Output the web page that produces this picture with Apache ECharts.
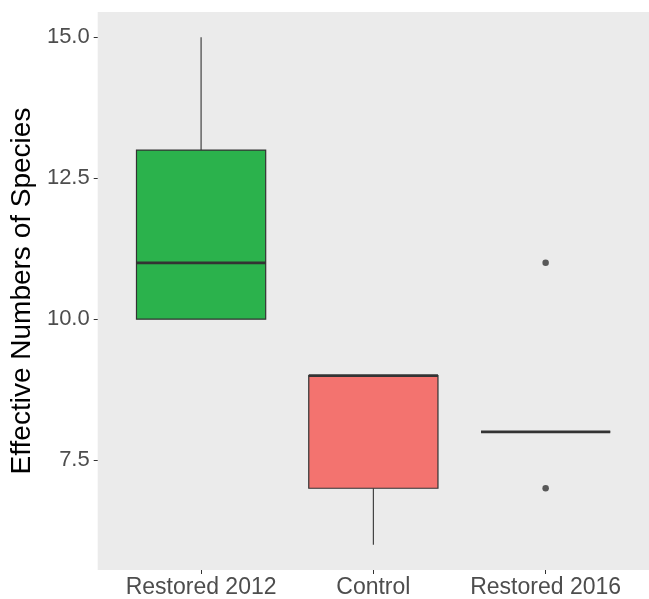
<!DOCTYPE html>
<html>
<head>
<meta charset="utf-8">
<script src="https://cdn.jsdelivr.net/npm/echarts@6/dist/echarts.min.js"></script>
<style>
html,body{margin:0;padding:0;background:#fff;}
#chart{width:649px;height:599px;}
</style>
</head>
<body>
<div id="chart"></div>
<script>
const categories = ['Restored 2012', 'Control', 'Restored 2016'];
const lowerWhisker = [10, 6, 8];
const q1 = [10, 7, 8];
const medians = [11, 9, 8];
const q3 = [13, 9, 8];
const upperWhisker = [15, 9, 8];
// outliers: [category position (1-based), value]
const outliers = [[3, 7], [3, 11]];
const yTicks = [7.5, 10, 12.5, 15];

const boxFills = ['#2BB24C', '#F3736F', '#619CFF'];
const FONT = "'Liberation Sans', Arial, Helvetica, sans-serif";

const boxData = categories.map((c, i) => [i + 1, lowerWhisker[i], q1[i], medians[i], q3[i], upperWhisker[i]]);

const chart = echarts.init(document.getElementById('chart'), null, {renderer: 'canvas'});
chart.setOption({
  animation: false,
  backgroundColor: '#ffffff',
  grid: {
    left: 94, right: -1, top: 12, bottom: 27,
    show: true, backgroundColor: '#EBEBEB', borderWidth: 0
  },
  xAxis: {
    type: 'value', min: 0.4, max: 3.6,
    axisLine: {show: false},
    splitLine: {show: false},
    axisTick: {show: true, customValues: [1, 2, 3], length: 4, lineStyle: {color: '#333333', width: 1}},
    axisLabel: {
      customValues: [1, 2, 3],
      formatter: v => categories[Math.round(v) - 1] || '',
      color: '#4D4D4D', fontSize: 23, fontFamily: FONT, margin: 6
    }
  },
  yAxis: {
    type: 'value', min: 5.55, max: 15.45,
    name: 'Effective Numbers of Species',
    nameLocation: 'middle', nameGap: 60,
    nameTextStyle: {color: '#000000', fontSize: 28, fontFamily: FONT},
    axisLine: {show: false},
    splitLine: {show: false},
    axisTick: {show: true, customValues: yTicks, length: 4, lineStyle: {color: '#333333', width: 1}},
    axisLabel: {
      customValues: yTicks,
      formatter: v => Number(v).toFixed(1),
      color: '#4D4D4D', fontSize: 22, fontFamily: FONT, margin: 8
    }
  },
  series: [
    {
      type: 'custom',
      data: boxData,
      encode: {x: 0, y: [1, 2, 3, 4, 5]},
      renderItem: function (params, api) {
        const x = api.value(0);
        const lo = api.value(1), a = api.value(2), m = api.value(3), b = api.value(4), hi = api.value(5);
        const half = 0.375;
        const pHi = api.coord([x, hi]), pB = api.coord([x, b]);
        const pA = api.coord([x, a]), pLo = api.coord([x, lo]);
        const tl = api.coord([x - half, b]);
        const br = api.coord([x + half, a]);
        const ml = api.coord([x - half, m]);
        const mr = api.coord([x + half, m]);
        const stroke = '#333333';
        return {
          type: 'group',
          children: [
            {type: 'line', shape: {x1: pB[0], y1: pB[1], x2: pHi[0], y2: pHi[1]}, style: {stroke: stroke, lineWidth: 1.1}},
            {type: 'line', shape: {x1: pA[0], y1: pA[1], x2: pLo[0], y2: pLo[1]}, style: {stroke: stroke, lineWidth: 1.1}},
            {type: 'rect', shape: {x: tl[0], y: tl[1], width: br[0] - tl[0], height: br[1] - tl[1]},
              style: {fill: boxFills[params.dataIndex], stroke: stroke, lineWidth: 1.2}},
            {type: 'line', shape: {x1: ml[0], y1: ml[1], x2: mr[0], y2: mr[1]}, style: {stroke: stroke, lineWidth: 2.8}}
          ]
        };
      }
    },
    {
      type: 'scatter',
      data: outliers,
      symbol: 'circle',
      symbolSize: 6.5,
      itemStyle: {color: '#333333'}
    }
  ]
});
</script>
</body>
</html>
